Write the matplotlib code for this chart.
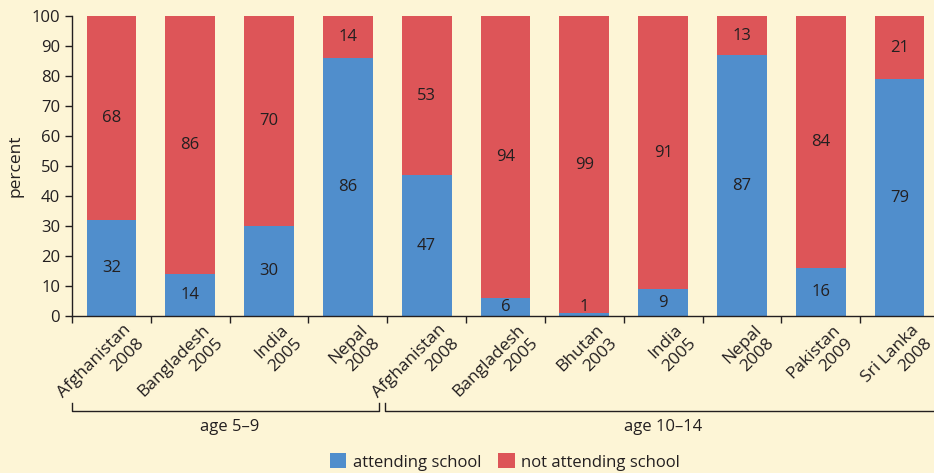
import matplotlib.pyplot as plt
from matplotlib.patches import Patch
import numpy as np

plt.rcParams['font.family'] = ['Open Sans', 'DejaVu Sans']

# data
countries = ["Afghanistan", "Bangladesh", "India", "Nepal",
             "Afghanistan", "Bangladesh", "Bhutan", "India", "Nepal", "Pakistan", "Sri Lanka"]
years = ["2008", "2005", "2005", "2008",
         "2008", "2005", "2003", "2005", "2008", "2009", "2008"]
attending = [32, 14, 30, 86, 47, 6, 1, 9, 87, 16, 79]
not_attending = [68, 86, 70, 14, 53, 94, 99, 91, 13, 84, 21]
groups = ["age 5\u20139", "age 10\u201314"]
group_sizes = [4, 7]

BG = "#fdf5d6"
BLUE = "#508ecc"
RED = "#dd5558"
TXT = "#231f20"
FS = 12

fig = plt.figure(figsize=(9.34, 4.73), dpi=100, facecolor=BG)
ax = fig.add_axes([72 / 934, 157 / 473, 1 - 72 / 934, 300 / 473])
ax.set_facecolor(BG)

x = np.arange(len(countries))
ax.bar(x, attending, width=0.63, color=BLUE, zorder=2)
ax.bar(x, not_attending, width=0.63, bottom=attending, color=RED, zorder=2)

for i, (a, n) in enumerate(zip(attending, not_attending)):
    ax.text(i, max(a / 2, 3), str(a), ha="center", va="center", fontsize=FS, color=TXT, zorder=3)
    ax.text(i, a + n / 2, str(n), ha="center", va="center", fontsize=FS, color=TXT, zorder=3)

ax.set_xlim(-0.5, len(countries) - 1 + 34.5 / 79)
ax.set_ylim(0, 100)
ax.set_yticks(range(0, 101, 10))
ax.tick_params(axis="y", labelsize=FS, colors=TXT, length=5, width=1)
ax.set_ylabel("percent", fontsize=12.5, color=TXT, labelpad=6)

ax.set_xticks(np.arange(-0.5, len(countries) - 0.5, 1))
ax.set_xticklabels([])
ax.tick_params(axis="x", length=5, width=1, colors=TXT)
for s in ["top", "right"]:
    ax.spines[s].set_visible(False)
for s in ["left", "bottom"]:
    ax.spines[s].set_color(TXT)
    ax.spines[s].set_linewidth(1)

# rotated two-line category labels
for i, (c, y) in enumerate(zip(countries, years)):
    ax.annotate(c + "\n" + y, xy=(i, 0), xycoords=("data", "axes fraction"),
                xytext=(17, -13), textcoords="offset points",
                rotation=45, rotation_mode="anchor", ha="right", va="center",
                multialignment="right", fontsize=12.5, color=TXT, linespacing=1.2,
                annotation_clip=False)

# group brackets
tr = ax.get_xaxis_transform()
yb = -95 / 300
yt = -87 / 300
spans = [(-0.5, 3.39), (3.475, len(countries))]
centers = [1.5, 7.0]
for g, (x0, x1), cx in zip(groups, spans, centers):
    ax.plot([x0, x0, x1, x1], [yt, yb, yb, yt], color=TXT, lw=1, transform=tr, clip_on=False)
    ax.text(cx, -111 / 300, g, transform=tr, ha="center", va="center", fontsize=FS, color=TXT)

handles = [Patch(facecolor=BLUE, label="attending school"),
           Patch(facecolor=RED, label="not attending school")]
fig.legend(handles=handles, loc="center", bbox_to_anchor=(505 / 934, 11 / 473), ncol=2,
           frameon=False, fontsize=FS, handlelength=1.0, handleheight=1.0,
           handletextpad=0.4, columnspacing=1.0, labelcolor=TXT, borderaxespad=0)

fig.savefig("out.png", dpi=100, facecolor=BG)
